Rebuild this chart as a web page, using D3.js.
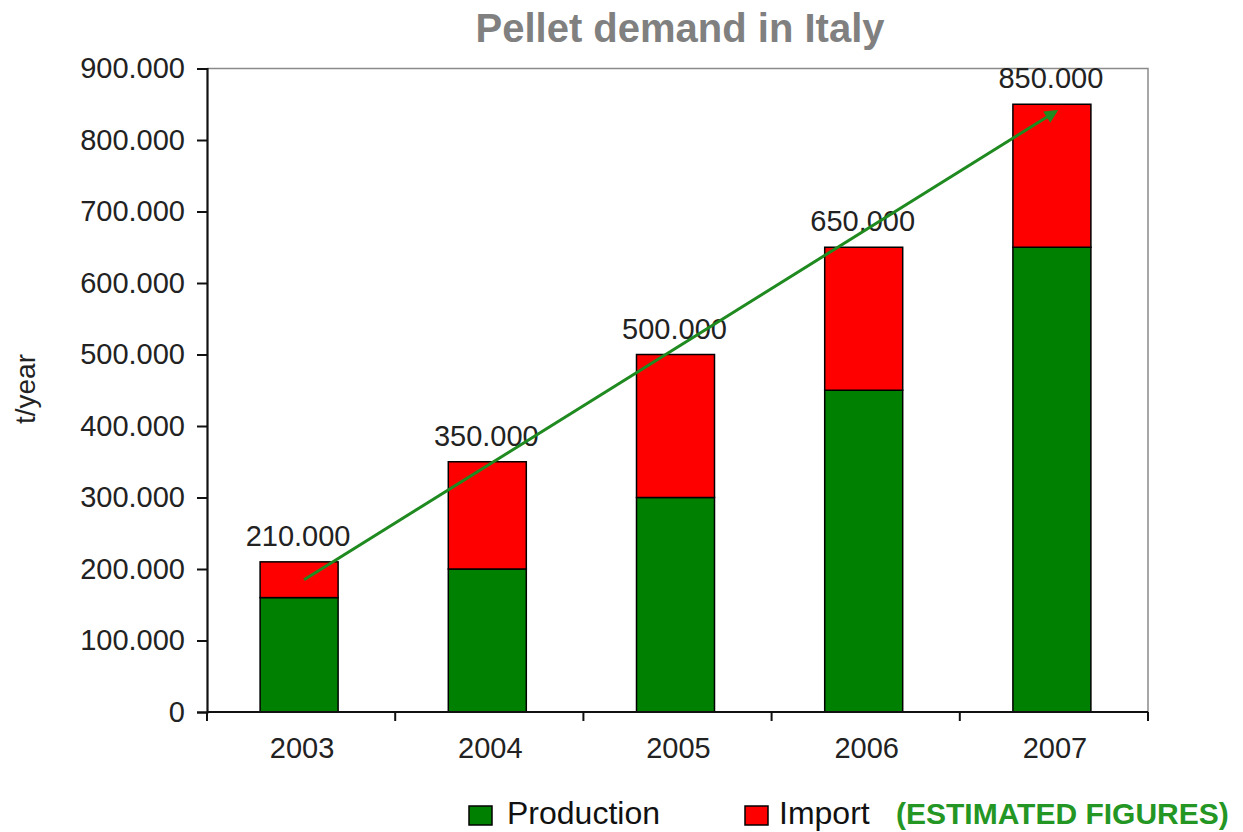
<!DOCTYPE html>
<html>
<head>
<meta charset="utf-8">
<script src="https://cdn.jsdelivr.net/npm/d3@7"></script>
<style>
  body { margin: 0; background: #fff; }
  text { font-family: "Liberation Sans", Arial, sans-serif; }
</style>
</head>
<body>
<div id="vis"></div>
<script>
const FRAME_WIDTH = 1243;
const FRAME_HEIGHT = 832;
const MARGINS = {left: 207, right: 95, top: 68.5, bottom: 120};

// data
const years = ["2003", "2004", "2005", "2006", "2007"];
const production = [160000, 200000, 300000, 450000, 650000];
const imports = [50000, 150000, 200000, 200000, 200000];
const totals = [210000, 350000, 500000, 650000, 850000];
const yTicks = [0, 100000, 200000, 300000, 400000, 500000, 600000, 700000, 800000, 900000];
const trendStart = 185000;
const trendEnd = 840000;

const VIS_WIDTH = FRAME_WIDTH - MARGINS.left - MARGINS.right;
const VIS_HEIGHT = FRAME_HEIGHT - MARGINS.top - MARGINS.bottom;

const fmt = (d) => d3.format(",")(d).replace(/,/g, ".");

const FRAME = d3.select("#vis")
  .append("svg")
    .attr("width", FRAME_WIDTH)
    .attr("height", FRAME_HEIGHT);

const STEP = VIS_WIDTH / years.length;
const center = (y) => MARGINS.left + STEP * (years.indexOf(y) + 0.5);

const Y_SCALE = d3.scaleLinear()
  .domain([0, 900000])
  .range([MARGINS.top + VIS_HEIGHT, MARGINS.top]);

// title
FRAME.append("text")
  .attr("x", 680)
  .attr("y", 42)
  .attr("text-anchor", "middle")
  .attr("font-size", 40)
  .attr("font-weight", "bold")
  .attr("fill", "#808080")
  .text("Pellet demand in Italy");

// plot frame (top + right in grey)
FRAME.append("path")
  .attr("d", `M${MARGINS.left},${MARGINS.top}H${MARGINS.left + VIS_WIDTH}V${MARGINS.top + VIS_HEIGHT}`)
  .attr("fill", "none")
  .attr("stroke", "#8a8a8a")
  .attr("stroke-width", 1.5);

// stacked bars
const rows = years.map((y, i) => ({year: y, prod: production[i], imp: imports[i], total: totals[i]}));

const bw = 78;
FRAME.selectAll(".prod")
  .data(rows)
  .enter()
  .append("rect")
    .attr("x", (d) => center(d.year) - bw / 2 - 2)
    .attr("y", (d) => Y_SCALE(d.prod))
    .attr("width", bw)
    .attr("height", (d) => Y_SCALE(0) - Y_SCALE(d.prod))
    .attr("fill", "#008000")
    .attr("stroke", "#000")
    .attr("stroke-width", 1.5);

FRAME.selectAll(".imp")
  .data(rows)
  .enter()
  .append("rect")
    .attr("x", (d) => center(d.year) - bw / 2 - 2)
    .attr("y", (d) => Y_SCALE(d.prod + d.imp))
    .attr("width", bw)
    .attr("height", (d) => Y_SCALE(d.prod) - Y_SCALE(d.prod + d.imp))
    .attr("fill", "#ff0000")
    .attr("stroke", "#000")
    .attr("stroke-width", 1.5);

// totals above bars
FRAME.selectAll(".total")
  .data(rows)
  .enter()
  .append("text")
    .attr("x", (d) => center(d.year) - 3)
    .attr("y", (d) => Y_SCALE(d.total) - 16)
    .attr("text-anchor", "middle")
    .attr("font-size", 29)
    .attr("fill", "#222")
    .text((d) => fmt(d.total));

// y axis
const yAxis = FRAME.append("g")
  .attr("transform", "translate(" + MARGINS.left + ",0)")
  .call(d3.axisLeft(Y_SCALE).tickValues(yTicks).tickFormat(fmt).tickSize(10).tickPadding(12));
yAxis.select(".domain").attr("stroke", "#111").attr("stroke-width", 2.2);
yAxis.selectAll(".tick line").attr("stroke", "#111").attr("stroke-width", 2);
yAxis.selectAll("text")
  .attr("font-size", 29)
  .attr("fill", "#222")
  .attr("font-family", "Liberation Sans, Arial, sans-serif");

// x axis: ticks at category boundaries
const xAxis = FRAME.append("g")
  .attr("transform", "translate(0," + (MARGINS.top + VIS_HEIGHT) + ")");
xAxis.append("line")
  .attr("x1", MARGINS.left).attr("x2", MARGINS.left + VIS_WIDTH)
  .attr("stroke", "#111").attr("stroke-width", 2);
xAxis.selectAll(".xt")
  .data(d3.range(years.length + 1))
  .enter()
  .append("line")
    .attr("x1", (i) => MARGINS.left + STEP * i)
    .attr("x2", (i) => MARGINS.left + STEP * i)
    .attr("y1", 0).attr("y2", 9)
    .attr("stroke", "#111").attr("stroke-width", 2);
xAxis.selectAll(".xl")
  .data(years)
  .enter()
  .append("text")
    .attr("x", (d) => center(d) + 1)
    .attr("y", 46)
    .attr("text-anchor", "middle")
    .attr("font-size", 29)
    .attr("fill", "#222")
    .text((d) => d);

// y label
FRAME.append("text")
  .attr("transform", "translate(35,389) rotate(-90)")
  .attr("text-anchor", "middle")
  .attr("font-size", 28)
  .attr("fill", "#222")
  .text("t/year");

// trend arrow
FRAME.append("defs").append("marker")
  .attr("id", "arrow")
  .attr("viewBox", "0 0 10 10")
  .attr("refX", 8).attr("refY", 5)
  .attr("markerWidth", 5).attr("markerHeight", 4.5)
  .attr("orient", "auto")
  .append("path")
    .attr("d", "M0,0L10,5L0,10z")
    .attr("fill", "#1f8a1f");

FRAME.append("line")
  .attr("x1", center(years[0]) + 3)
  .attr("y1", Y_SCALE(trendStart))
  .attr("x2", center(years[years.length - 1]) + 2)
  .attr("y2", Y_SCALE(trendEnd))
  .attr("stroke", "#1f8a1f")
  .attr("stroke-width", 3)
  .attr("marker-end", "url(#arrow)");

// legend
const legendItems = [
  {label: "Production", color: "#008000", x: 469, tx: 507},
  {label: "Import", color: "#ff0000", x: 745, tx: 779}
];
FRAME.selectAll(".lg")
  .data(legendItems)
  .enter()
  .append("rect")
    .attr("x", (d) => d.x)
    .attr("y", 806)
    .attr("width", 23)
    .attr("height", 19)
    .attr("fill", (d) => d.color)
    .attr("stroke", "#000")
    .attr("stroke-width", 1.5);
FRAME.selectAll(".lgt")
  .data(legendItems)
  .enter()
  .append("text")
    .attr("x", (d) => d.tx)
    .attr("y", 824)
    .attr("font-size", 32)
    .attr("fill", "#111")
    .text((d) => d.label);

FRAME.append("text")
  .attr("x", 896)
  .attr("y", 824)
  .attr("font-size", 30)
  .attr("font-weight", "bold")
  .attr("fill", "#249624")
  .text("(ESTIMATED FIGURES)");
</script>
</body>
</html>
